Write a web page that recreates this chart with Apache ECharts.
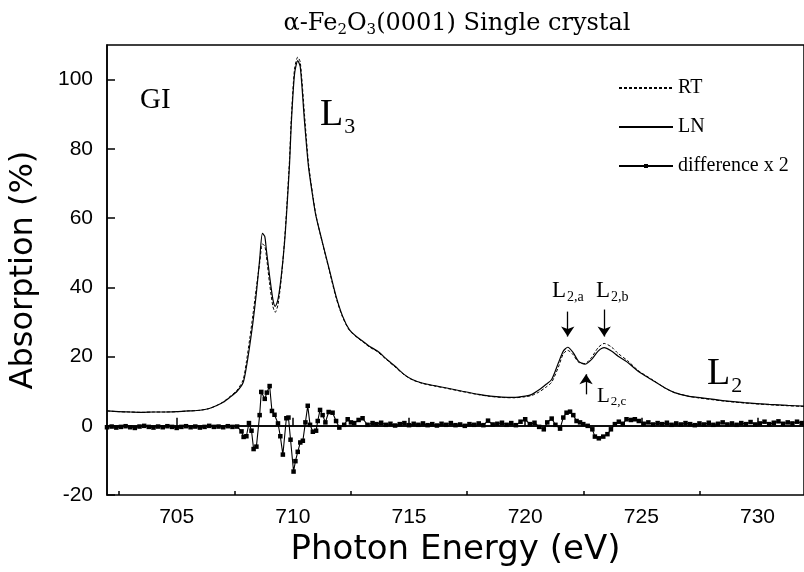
<!DOCTYPE html>
<html>
<head>
<meta charset="utf-8">
<script src="https://cdn.jsdelivr.net/npm/echarts@6/dist/echarts.min.js"></script>
<style>
  html, body { margin: 0; padding: 0; background: #fff; }
  #main { width: 804px; height: 572px; }
</style>
</head>
<body>
<div id="main"></div>
<script>
// photon energy (eV) for the two absorption curves
const energy = [
  702.0, 702.5, 703.0, 703.5, 704.0, 704.5, 705.0, 705.5, 706.0, 706.4, 706.7, 707.0, 707.28, 707.6, 707.86,
  708.0, 708.14, 708.28, 708.43, 708.57, 708.69, 708.79, 708.86, 709.0, 709.14, 709.24, 709.36, 709.5, 709.64,
  709.74, 709.86, 709.93, 710.07, 710.21, 710.32, 710.5, 710.67, 710.86, 711.0, 711.28, 711.57, 711.86, 712.14,
  712.43, 712.72, 713.0, 713.29, 713.64, 714.0, 714.4, 714.8, 715.14, 715.6, 716.1, 716.57, 717.3, 718.0, 718.5,
  719.0, 719.5, 720.0, 720.29, 720.6, 720.9, 721.14, 721.43, 721.64, 721.83, 722.07, 722.29, 722.57, 722.86,
  723.14, 723.4, 723.71, 724.0, 724.43, 724.86, 725.43, 726.0, 726.43, 727.0, 727.43, 728.5, 729.43, 730.5,
  731.3, 732.0
];
// LN (solid)
const lnAbs = [
  4.3, 4.1, 4.0, 3.9, 4.0, 4.0, 4.1, 4.3, 4.5, 5.0, 5.8, 6.8, 8.2, 10.0, 12.5,
  17.0, 23.0, 29.8, 38.4, 48.0, 55.6, 54.7, 50.8, 43.2, 36.5, 34.5, 36.5, 43.2, 52.8,
  62.4, 76.0, 87.0, 101.5, 105.5, 103.6, 88.0, 75.0, 66.0, 60.4, 52.8, 45.1, 37.4, 31.7,
  27.8, 25.9, 24.5, 23.0, 21.6, 19.5, 17.2, 14.8, 13.4, 12.3, 11.6, 11.0, 10.0, 9.1, 8.6,
  8.3, 8.2, 8.6, 9.1, 10.4, 12.0, 13.4, 18.2, 21.6, 22.7, 21.1, 18.7, 17.8, 19.2,
  21.6, 22.6, 21.6, 20.1, 18.2, 15.8, 13.4, 11.0, 9.6, 8.6, 8.2, 7.3, 6.7, 6.2,
  5.9, 5.7
];
// RT (dashed)
const rtAbs = [
  4.3, 4.1, 4.0, 3.9, 4.0, 4.0, 4.1, 4.3, 4.5, 5.0, 5.8, 6.9, 8.4, 10.3, 13.3,
  18.5, 25.0, 32.0, 40.0, 47.0, 52.5, 52.0, 49.0, 41.0, 34.5, 32.8, 35.0, 42.5, 53.5,
  63.5, 77.5, 88.5, 103.0, 106.5, 105.0, 90.0, 76.0, 66.5, 60.6, 52.6, 44.8, 37.0, 31.4,
  27.6, 25.8, 24.3, 22.8, 21.4, 19.3, 17.0, 14.7, 13.3, 12.2, 11.5, 10.9, 9.9, 9.0, 8.5,
  8.2, 8.1, 8.4, 8.8, 9.8, 11.2, 12.6, 17.0, 20.8, 21.8, 20.5, 18.4, 18.0, 19.8,
  22.6, 23.8, 22.8, 20.9, 18.7, 16.0, 13.5, 11.0, 9.6, 8.6, 8.1, 7.2, 6.6, 6.1,
  5.8, 5.6
];
// difference x 2 : [energy, value]
const diffX2 = [
  [702.0, -0.4], [702.2, -0.2], [702.4, -0.5], [702.6, -0.3], [702.8, -0.1], [703.0, -0.4], [703.2, -0.6],
  [703.4, -0.2], [703.6, 0.0], [703.8, -0.3], [704.0, -0.5], [704.2, -0.2], [704.4, -0.4], [704.6, -0.1],
  [704.8, -0.3], [705.0, -0.6], [705.2, -0.3], [705.4, -0.1], [705.6, -0.4], [705.8, -0.2], [706.0, -0.5],
  [706.2, -0.3], [706.4, 0.0], [706.6, -0.3], [706.8, -0.2], [707.0, -0.4], [707.2, -0.1], [707.4, -0.3],
  [707.6, -0.2],
  [707.79, -1.6], [707.88, -3.2], [708.0, -3.0], [708.11, 0.8], [708.22, -1.4], [708.31, -6.7], [708.43, -6.0],
  [708.57, 3.1], [708.64, 9.8], [708.79, 7.8], [708.88, 9.6], [709.0, 11.5], [709.1, 4.3], [709.21, 3.2],
  [709.36, 0.7], [709.46, -3.0], [709.57, -8.3], [709.72, 2.2], [709.81, 2.4], [709.9, -4.0], [710.03, -13.2],
  [710.11, -10.2], [710.21, -7.5], [710.32, -4.8], [710.43, -4.3], [710.54, 1.0], [710.64, 5.8], [710.74, 0.3],
  [710.86, -1.7], [711.0, -1.4], [711.07, 1.4], [711.17, 4.6], [711.28, 3.1], [711.4, 1.0], [711.54, 4.0],
  [711.71, 3.8], [711.86, 1.4], [712.0, -0.5], [712.21, 0.3], [712.36, 1.9], [712.5, 1.0], [712.64, 0.8],
  [712.83, 1.7], [713.0, 2.2], [713.21, 0.3], [713.43, 0.8],
  [713.6, 0.5], [713.8, 0.9], [714.0, 0.3], [714.2, 0.6], [714.4, 0.1], [714.6, 0.5], [714.8, 0.8], [715.0, 0.2],
  [715.2, 0.6], [715.4, 0.3], [715.6, 0.7], [715.8, 0.2], [716.0, 0.5], [716.2, 0.1], [716.4, 0.6], [716.6, 0.3],
  [716.8, 0.8], [717.0, 0.2], [717.2, 0.4], [717.4, 0.0], [717.6, 0.5], [717.8, 0.3], [718.0, 0.7], [718.2, 0.2],
  [718.4, 1.5], [718.6, 0.4], [718.8, 0.6], [719.0, 0.9], [719.2, 0.3], [719.4, 0.8], [719.6, 0.2], [719.8, 1.2],
  [720.0, 1.9], [720.2, 0.5], [720.4, 0.9], [720.6, -0.3], [720.8, -1.0], [720.95, 1.0],
  [721.14, 2.1], [721.3, 0.3], [721.5, -0.8], [721.64, 2.4], [721.78, 3.8], [721.93, 4.1], [722.07, 3.1],
  [722.21, 1.4], [722.36, 1.0], [722.5, 0.5], [722.69, 0.0], [722.89, -1.0], [723.0, -3.1], [723.17, -3.6],
  [723.36, -3.1], [723.54, -2.4], [723.69, -1.0], [723.86, 0.5], [724.03, 1.2], [724.2, 0.6], [724.36, 1.9],
  [724.55, 1.7], [724.72, 1.9], [724.89, 1.4],
  [725.1, 0.6], [725.3, 1.0], [725.5, 0.4], [725.7, 0.8], [725.9, 0.5], [726.1, 0.9], [726.3, 0.3], [726.5, 0.7],
  [726.7, 0.4], [726.9, 0.8], [727.1, 0.5], [727.3, 0.2], [727.5, 0.7], [727.7, 0.4], [727.9, 0.9], [728.1, 0.3],
  [728.3, 0.6], [728.5, 1.0], [728.7, 0.4], [728.9, 0.7], [729.1, 0.3], [729.3, 0.8], [729.5, 0.5], [729.7, 1.1],
  [729.9, 0.4], [730.1, 0.7], [730.3, 1.2], [730.5, 0.5], [730.7, 0.9], [730.9, 1.3], [731.1, 0.6], [731.3, 1.0],
  [731.5, 0.7], [731.7, 1.2], [731.9, 0.8]
];

const xTickLabels = [705, 710, 715, 720, 725, 730];
const xMinorTicks = [702.5, 707.5, 712.5, 717.5, 722.5, 727.5];
const yTickLabels = [-20, 0, 20, 40, 60, 80, 100];

// peak markers: [energy, from, to]
const arrowsDown = [[721.83, 33.0, 25.8], [723.4, 33.6, 25.8]];
const arrowUp = [722.62, 9.1, 14.9];

const serif = 'Liberation Serif, Times New Roman, serif';
const wideSerif = 'DejaVu Serif, serif';
const sans = 'DejaVu Sans, sans-serif';
const tickFont = 'Liberation Sans, Arial, sans-serif';

const zip = (xs, ys) => xs.map((x, i) => [x, ys[i]]);

const chart = echarts.init(document.getElementById('main'));

const arrowLines = arrowsDown.map(a => [{ coord: [a[0], a[1]] }, { coord: [a[0], a[2]] }]);
arrowLines.push([{ coord: [arrowUp[0], arrowUp[1]] }, { coord: [arrowUp[0], arrowUp[2]] }]);

const xBase = {
  type: 'value', min: 702, max: 732,
  splitLine: { show: false }
};

const subLabel = (main, sub, size, subSize, drop) => ({
  text: '{a|' + main + '}{s|' + sub + '}',
  rich: {
    a: { fontFamily: serif, fontSize: size, fill: '#000' },
    s: { fontFamily: serif, fontSize: subSize, fill: '#000', padding: [drop, 0, 0, 1] }
  }
});

chart.setOption({
  animation: false,
  backgroundColor: '#fff',
  grid: { left: 107, top: 45, width: 700, height: 451, show: true, borderColor: '#000', borderWidth: 1.5 },
  legend: {
    orient: 'vertical', left: 613, top: 73,
    itemWidth: 54, itemHeight: 5, itemGap: 19,
    selectedMode: false,
    textStyle: { fontFamily: serif, fontSize: 20, color: '#000' },
    data: [
      { name: 'RT', itemStyle: { opacity: 0 } },
      { name: 'LN', itemStyle: { opacity: 0 } },
      { name: 'difference x 2' }
    ]
  },
  xAxis: [
    Object.assign({}, xBase, {
      name: 'Photon Energy (eV)', nameLocation: 'middle', nameGap: 30,
      nameTextStyle: { fontFamily: sans, fontSize: 34, color: '#000' },
      axisLine: { lineStyle: { color: '#000', width: 1.5 } },
      axisTick: { inside: true, length: 8, lineStyle: { color: '#000', width: 1.5 }, customValues: xTickLabels },
      axisLabel: { customValues: xTickLabels, margin: 12, fontFamily: tickFont, fontSize: 21, color: '#000' }
    }),
    Object.assign({}, xBase, {
      position: 'bottom', offset: 0,
      axisLine: { show: false },
      axisTick: { inside: true, length: 4, lineStyle: { color: '#000', width: 1.5 }, customValues: xMinorTicks },
      axisLabel: { show: false }
    })
  ],
  yAxis: {
    type: 'value', min: -20, max: 110,
    name: 'Absorption (%)', nameLocation: 'middle', nameGap: 67,
    nameTextStyle: { fontFamily: sans, fontSize: 32, color: '#000' },
    splitLine: { show: false },
    axisLine: { show: true, lineStyle: { color: '#000', width: 1.5 } },
    axisTick: { show: true, inside: true, length: 8, lineStyle: { color: '#000', width: 1.5 }, customValues: yTickLabels },
    axisLabel: { customValues: yTickLabels, margin: 14, fontFamily: tickFont, fontSize: 21, color: '#000' }
  },
  series: [
    {
      name: 'RT', type: 'line', data: zip(energy, rtAbs), symbol: 'none', smooth: 0.25,
      lineStyle: { color: '#000', width: 1, type: [3, 2] }, itemStyle: { color: '#000' }
    },
    {
      name: 'LN', type: 'line', data: zip(energy, lnAbs), symbol: 'none', smooth: 0.25,
      lineStyle: { color: '#000', width: 1.2 }, itemStyle: { color: '#000' },
      markLine: {
        silent: true, symbol: ['none', 'arrow'], symbolSize: 10,
        label: { show: false },
        lineStyle: { color: '#000', width: 1.3, type: 'solid' },
        data: arrowLines
      }
    },
    {
      name: 'difference x 2', type: 'line', data: diffX2,
      symbol: 'rect', symbolSize: 4.5,
      lineStyle: { color: '#000', width: 1.1 }, itemStyle: { color: '#000' },
      markLine: {
        silent: true, symbol: 'none', label: { show: false },
        lineStyle: { color: '#000', width: 1.6, type: 'solid' },
        data: [{ yAxis: 0 }]
      }
    }
  ],
  graphic: [
    {
      type: 'text', x: 457, y: 24,
      style: {
        text: '{a|α-Fe}{s|2}{a|O}{s|3}{a|(0001) Single crystal}',
        align: 'center', verticalAlign: 'middle',
        rich: {
          a: { fontFamily: wideSerif, fontSize: 24, fill: '#000' },
          s: { fontFamily: wideSerif, fontSize: 15, fill: '#000', padding: [13, 0, 0, 0] }
        }
      }
    },
    { type: 'text', x: 140, y: 86, style: { text: 'GI', fontFamily: serif, fontSize: 29, fill: '#000' } },
    { type: 'text', x: 320, y: 92, style: subLabel('L', '3', 38, 22, 24) },
    { type: 'text', x: 707, y: 351, style: subLabel('L', '2', 38, 22, 24) },
    { type: 'text', x: 552, y: 278, style: subLabel('L', '2,a', 23, 14, 12) },
    { type: 'text', x: 596, y: 278, style: subLabel('L', '2,b', 23, 14, 12) },
    { type: 'text', x: 597, y: 384, style: subLabel('L', '2,c', 21, 13, 11) }
  ]
});
</script>
</body>
</html>
